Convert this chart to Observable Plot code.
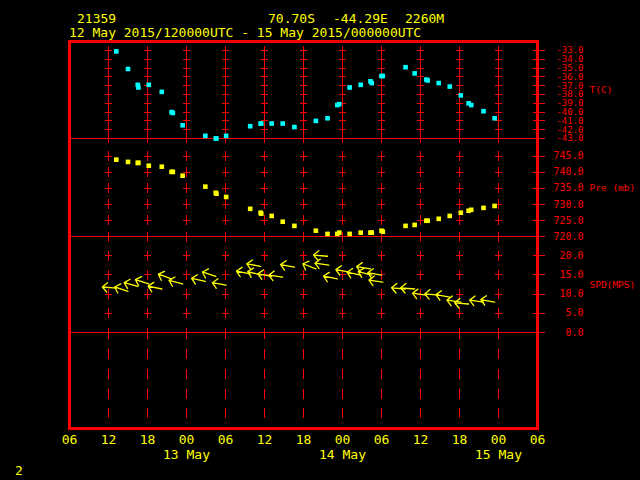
<!DOCTYPE html>
<html><head><meta charset="utf-8">
<script src="https://cdn.jsdelivr.net/npm/d3@7"></script>
<script src="https://cdn.jsdelivr.net/npm/@observablehq/plot@0.6"></script>
<style>
html,body{margin:0;padding:0;background:#000;}
#chart{position:relative;width:640px;height:480px;background:#000;overflow:hidden;font-family:"DejaVu Sans Mono",monospace;}
#chart svg{position:absolute;left:0;}
.hdr{position:absolute;color:#ffff00;font-size:13px;line-height:13px;white-space:pre;}
</style></head><body><div id="chart"></div>
<script>
// ---- station / header ----
const stationId = "21359";
const stationLat = "70.70S";
const stationLon = "-44.29E";
const stationElev = "2260M";
const pageNumber = "2";

// ---- observations: hours after 12 May 2015 00 UTC ----
const obsHour = [13.2, 15.0, 16.5, 16.6, 18.2, 20.2, 21.7, 21.9, 23.4, 26.9, 28.5, 28.6, 30.1, 33.8, 35.4, 35.5, 37.1, 38.8, 40.6, 43.9,
                 45.7, 47.2, 47.5, 49.1, 50.8, 52.3, 52.5, 54.0, 54.2, 57.7, 59.1, 60.9, 61.1, 62.8, 64.5, 66.2, 67.4, 67.8, 69.7, 71.4];
const tempC = [-33.1, -35.1, -36.9, -37.2, -36.9, -37.7, -40.0, -40.1, -41.5, -42.7, -43.0, -43.0, -42.7, -41.6, -41.3, -41.3, -41.3, -41.3, -41.7, -41.0,
               -40.7, -39.2, -39.1, -37.2, -36.9, -36.5, -36.7, -35.9, -35.9, -34.9, -35.6, -36.3, -36.4, -36.7, -37.1, -38.1, -39.0, -39.2, -39.9, -40.7];
const presMb = [743.9, 743.2, 742.9, 742.9, 742.0, 741.7, 740.1, 740.1, 738.9, 735.5, 733.6, 733.3, 732.3, 728.6, 727.4, 727.1, 726.4, 724.6, 723.3, 721.8,
                720.8, 720.8, 721.2, 720.8, 721.2, 721.2, 721.2, 721.8, 721.5, 723.3, 723.6, 724.9, 724.9, 725.5, 726.4, 727.4, 728.0, 728.3, 728.9, 729.5];

// ---- wind (hours after 12 May 2015 00 UTC), speed m/s, arrow heading (deg clockwise from north) ----
const windHour = [13.2, 15.0, 16.5, 18.2, 20.2, 21.7, 23.4, 26.9, 28.5, 30.1, 33.8, 35.4, 35.5, 37.1, 38.8, 40.6, 43.9, 45.7, 45.9, 47.2,
                  49.1, 50.8, 52.3, 52.5, 54.0, 54.2, 57.7, 59.1, 60.9, 62.8, 64.5, 66.2, 67.4, 69.7, 71.4];
const windSpd = [11.5, 10.7, 12.0, 12.6, 11.3, 13.9, 12.6, 13.3, 14.6, 12.3, 15.2, 17.2, 14.9, 14.6, 14.4, 17.0, 16.5, 19.8, 17.5, 13.9,
                 15.7, 14.9, 16.5, 14.9, 14.9, 13.1, 11.3, 11.3, 9.7, 9.7, 9.2, 7.9, 7.4, 7.9, 7.9];
const windHeading = [-85, -72, -75, -72, -78, -70, -75, -78, -72, -80, -78, -80, -75, -80, -82, -80, -68, -85, -82, -78,
                     -80, -78, -80, -75, -80, -82, -85, -85, -82, -85, -80, -82, -85, -82, -80];

// ---- axes ----
const tTicks = [-33, -34, -35, -36, -37, -38, -39, -40, -41, -42, -43];
const pTicks = [745, 740, 735, 730, 725, 720];
const sTicks = [20, 15, 10, 5, 0];
const tTitle = "T(C)", pTitle = "Pre (mb)", sTitle = "SPD(MPS)";

const RED = "#ff0000", YEL = "#ffff00", CYAN = "#00ffff";
const LABEL_FONT = "DejaVu Sans Mono";
const base = Date.UTC(2015, 4, 12);
const hr = h => new Date(base + h * 3600e3);
const dataStart = hr(12), dataEnd = hr(72);
const xStart = hr(6), xEnd = hr(78);
const gridTimes = d3.utcHour.every(6).range(hr(12), xEnd);
const labelTimes = d3.utcHour.every(6).range(xStart, hr(79));
const dayTimes = d3.utcDay.range(hr(24), xEnd);

const tempData = obsHour.map((h, i) => ({t: hr(h), v: tempC[i]}));
const presData = obsHour.map((h, i) => ({t: hr(h), v: presMb[i]}));
const windData = windHour.map((h, i) => ({t: hr(h), v: windSpd[i], r: windHeading[i]}));

const common = {
  width: 640, marginLeft: 69, marginRight: 103, marginTop: 0, marginBottom: 0,
  x: {type: "utc", domain: [xStart, xEnd], axis: null},
  style: {background: "transparent", overflow: "visible"}
};
const crossSym = (v, h) => ({draw(ctx) { ctx.moveTo(-h, 0); ctx.lineTo(h, 0); ctx.moveTo(0, -v); ctx.lineTo(0, v); }});

function panelMarks(ticks, title, vHalf, fs) {
  return [
    Plot.dot(d3.cross(gridTimes, ticks), {x: d => d[0], y: d => d[1], symbol: crossSym(vHalf, 3.5), r: 4, stroke: RED, fill: "none", strokeWidth: 1, shapeRendering: "crispEdges"}),
    Plot.ruleY(ticks, {y: d => d, x1: () => xEnd, x2: () => xEnd, insetLeft: -4, insetRight: -8, stroke: RED, strokeWidth: 1, shapeRendering: "crispEdges"}),
    Plot.text(ticks, {y: d => d, frameAnchor: "right", dx: 46, textAnchor: "end", text: d => d.toFixed(1), fill: RED, fontFamily: LABEL_FONT, fontSize: fs}),
    Plot.text([title], {frameAnchor: "right", dx: 52, textAnchor: "start", text: d => d, fill: RED, fontFamily: LABEL_FONT, fontSize: 9.5})
  ];
}

const chart = document.getElementById("chart");
function place(svg, top) { svg.style.top = top + "px"; chart.appendChild(svg); }

// frame + time axis
place(Plot.plot({
  ...common, height: 480, marginTop: 41, marginBottom: 52,
  y: {domain: [0, 1], axis: null},
  marks: [
    Plot.frame({stroke: RED, strokeWidth: 3}),
    Plot.text(labelTimes, {x: d => d, frameAnchor: "bottom", dy: 15.5, text: d3.utcFormat("%H"), fill: YEL, fontSize: 13, fontFamily: "DejaVu Sans Mono"}),
    Plot.text(dayTimes, {x: d => d, frameAnchor: "bottom", dy: 30.5, text: d3.utcFormat("%-d %b"), fill: YEL, fontSize: 13, fontFamily: "DejaVu Sans Mono"})
  ]
}), 0);

// temperature panel
place(Plot.plot({
  ...common, height: 97,
  y: {domain: [-43, -43 + 97 / 8.8], axis: null},
  marks: [
    Plot.ruleY([-43], {stroke: RED, strokeWidth: 1}),
    ...panelMarks(tTicks, tTitle, 4.5, 9),
    Plot.dot(tempData, {x: "t", y: "v", symbol: "square", r: 2.6, fill: CYAN, stroke: "none"})
  ]
}), 41);

// pressure panel
place(Plot.plot({
  ...common, height: 98,
  y: {domain: [720, 720 + 98 / 3.216], axis: null},
  marks: [
    Plot.ruleY([720], {stroke: RED, strokeWidth: 1}),
    ...panelMarks(pTicks, pTitle, 5, 10),
    Plot.dot(presData, {x: "t", y: "v", symbol: "square", r: 2.6, fill: YEL, stroke: "none"})
  ]
}), 138);

// wind speed panel
place(Plot.plot({
  ...common, height: 96,
  y: {domain: [0, 96 / 3.85], axis: null},
  marks: [
    Plot.ruleY([0], {stroke: RED, strokeWidth: 1}),
    ...panelMarks(sTicks, sTitle, 5, 10),
    Plot.vector(windData, {x: "t", y: "v", rotate: "r", length: 14, anchor: "start", r: 6, stroke: YEL, strokeWidth: 1.3})
  ]
}), 236);

// empty bottom panel with dashed time grid
place(Plot.plot({
  ...common, height: 96,
  marks: [
    Plot.ruleX(gridTimes, {stroke: RED, strokeWidth: 1, strokeDasharray: "10 9.75", strokeDashoffset: 2.75, shapeRendering: "crispEdges"})
  ]
}), 332);

// header text
const fmt = d3.utcFormat("%-d %b %Y/%H%M%SUTC");
function hdr(txt, left, top) {
  const d = document.createElement("div");
  d.className = "hdr"; d.textContent = txt;
  d.style.left = left + "px"; d.style.top = top + "px";
  chart.appendChild(d);
}
hdr(stationId, 77, 11.5);
hdr(stationLat, 268, 11.5);
hdr(stationLon, 333, 11.5);
hdr(stationElev, 405, 11.5);
hdr(fmt(dataStart) + " - " + fmt(dataEnd), 69, 25.5);
hdr(pageNumber, 15, 464);
</script></body></html>
